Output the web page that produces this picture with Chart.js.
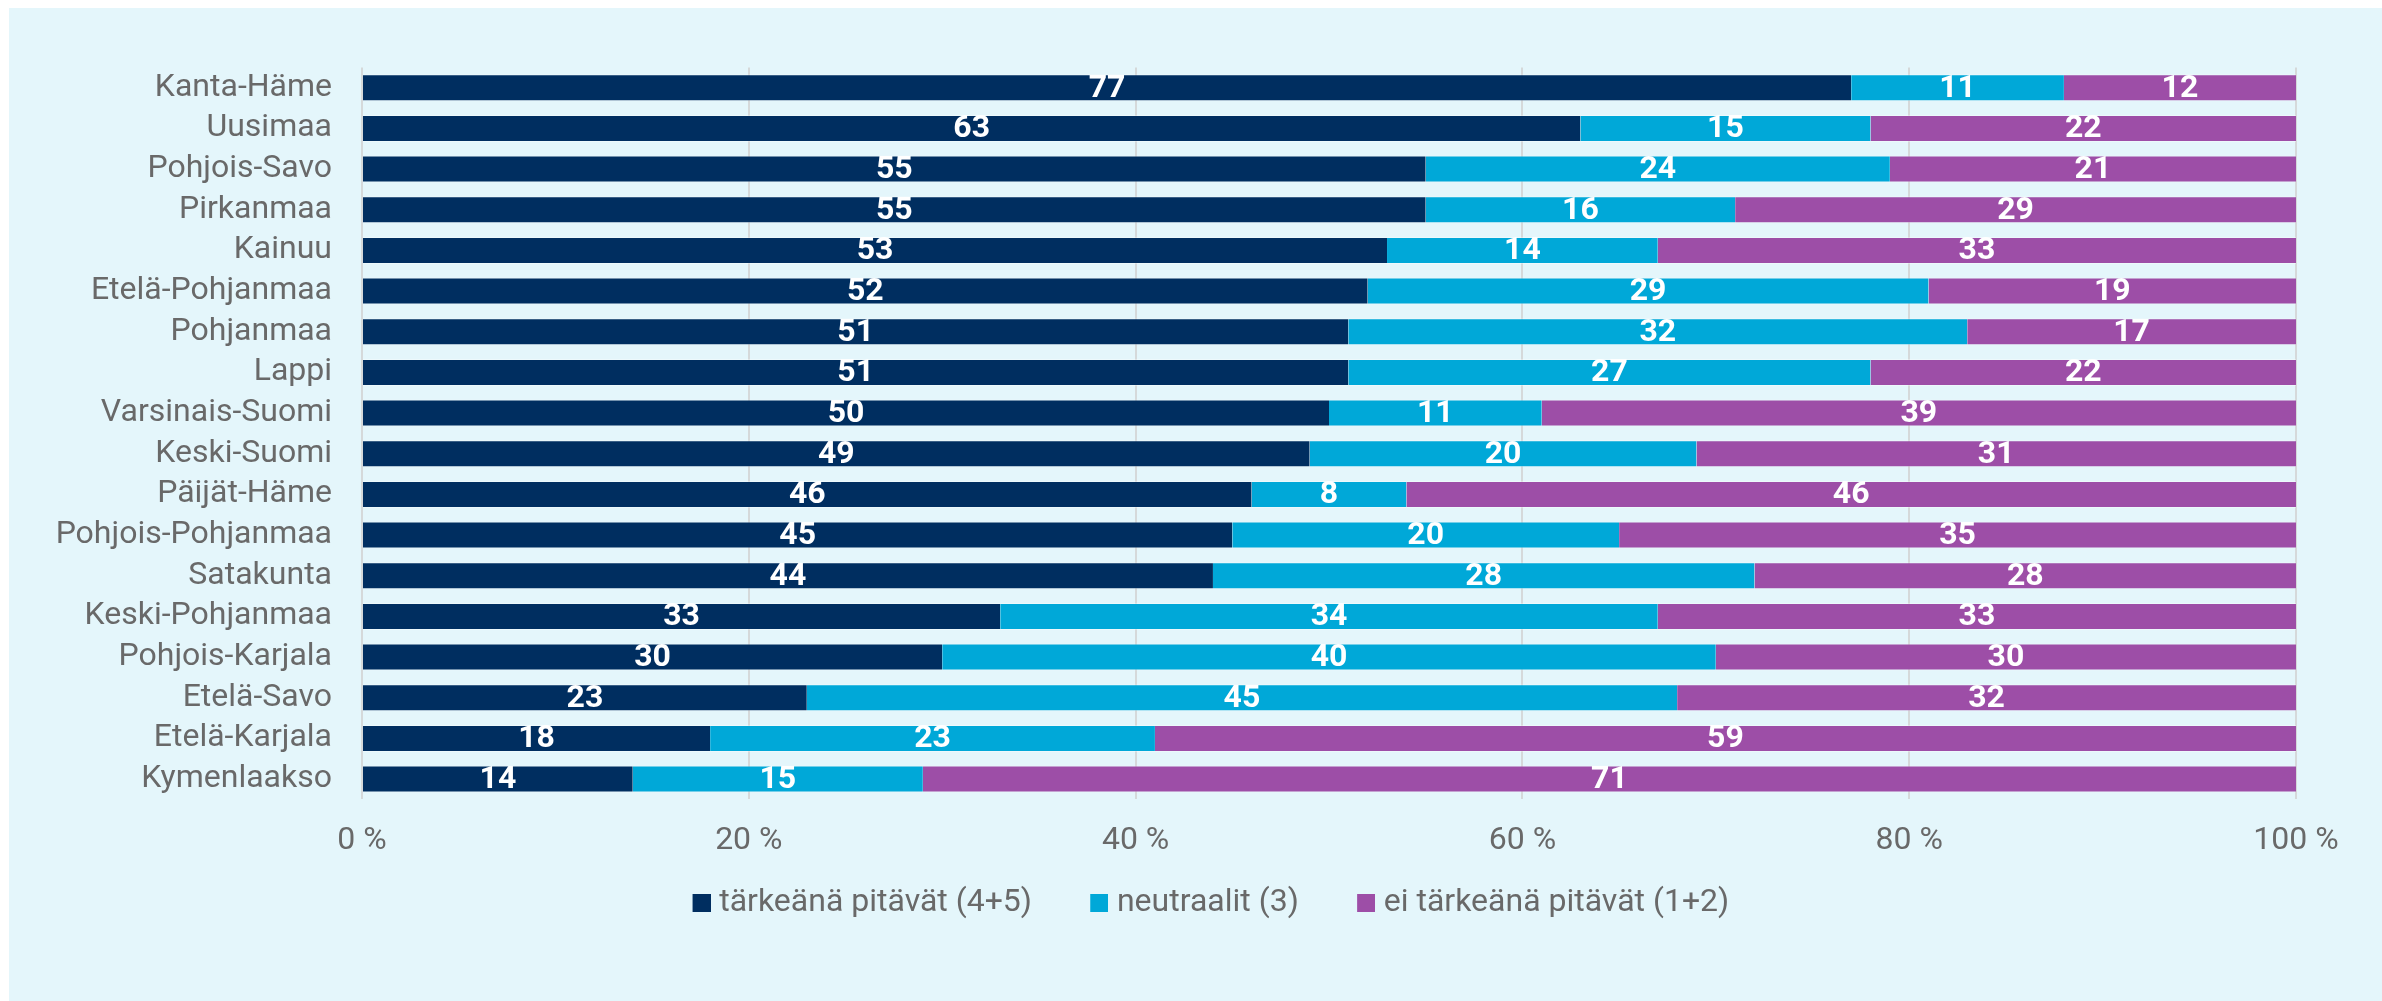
<!DOCTYPE html>
<html>
<head>
<meta charset="utf-8">
<script src="https://cdn.jsdelivr.net/npm/chart.js@4/dist/chart.umd.min.js"></script>
<style>
  html, body { margin: 0; padding: 0; background: #ffffff; }
  #panel { position: absolute; left: 9px; top: 8px; width: 2373px; height: 993px; background: #e4f6fb; }
  canvas { display: block; }
</style>
</head>
<body>
<div id="panel"><canvas id="c"></canvas></div>
<script>
const categories = ["Kanta-Häme", "Uusimaa", "Pohjois-Savo", "Pirkanmaa", "Kainuu", "Etelä-Pohjanmaa", "Pohjanmaa", "Lappi", "Varsinais-Suomi", "Keski-Suomi", "Päijät-Häme", "Pohjois-Pohjanmaa", "Satakunta", "Keski-Pohjanmaa", "Pohjois-Karjala", "Etelä-Savo", "Etelä-Karjala", "Kymenlaakso"];
const important = [77, 63, 55, 55, 53, 52, 51, 51, 50, 49, 46, 45, 44, 33, 30, 23, 18, 14];
const neutral   = [11, 15, 24, 16, 14, 29, 32, 27, 11, 20, 8, 20, 28, 34, 40, 45, 23, 15];
const notImportant = [12, 22, 21, 29, 33, 19, 17, 22, 39, 31, 46, 35, 28, 33, 30, 32, 59, 71];
const seriesNames = ["tärkeänä pitävät (4+5)", "neutraalit (3)", "ei tärkeänä pitävät (1+2)"];
const xTicks = [0, 20, 40, 60, 80, 100];

const colors = ["#002e60", "#00a8d8", "#9d4ea7"];
const textGray = "#696969";
const FONT = "Roboto";

// legend swatch: square drawn at the right end of a wider transparent image
const SW_W = 56, SW_SQ = 18;
function swatch(color) {
  const c = document.createElement('canvas');
  c.width = SW_W; c.height = SW_SQ;
  const g = c.getContext('2d');
  g.fillStyle = color;
  g.fillRect(SW_W - SW_SQ, 0, SW_SQ, SW_SQ);
  return c;
}
const swatches = colors.map(swatch);

const valueLabels = {
  id: 'valueLabels',
  afterDatasetsDraw(chart) {
    const ctx = chart.ctx;
    ctx.save();
    ctx.font = "bold 32px " + FONT;
    ctx.fillStyle = "#ffffff";
    ctx.textAlign = "center";
    ctx.textBaseline = "middle";
    chart.data.datasets.forEach((ds, di) => {
      const meta = chart.getDatasetMeta(di);
      meta.data.forEach((el, i) => {
        const v = ds.data[i];
        if (!v) return;
        const p = el.getCenterPoint();
        ctx.fillText(String(v), p.x, p.y + 1);
      });
    });
    ctx.restore();
  }
};

const mk = (label, data, color) => ({
  label, data,
  backgroundColor: color,
  borderColor: "rgba(255,255,255,0.35)",
  borderWidth: {top: 1, bottom: 1, left: 0, right: 0},
  borderSkipped: false,
  categoryPercentage: 1.0,
  barPercentage: 0.664
});

new Chart(document.getElementById('c'), {
  type: 'bar',
  data: {
    labels: categories,
    datasets: [
      mk(seriesNames[0], important, colors[0]),
      mk(seriesNames[1], neutral, colors[1]),
      mk(seriesNames[2], notImportant, colors[2])
    ]
  },
  options: {
    indexAxis: 'y',
    responsive: true,
    maintainAspectRatio: false,
    animation: false,
    layout: { padding: { left: 0, right: 0, top: 59.4, bottom: 72 } },
    plugins: {
      tooltip: { enabled: false },
      legend: {
        position: 'bottom',
        align: 'center',
        labels: {
          usePointStyle: true,
          pointStyleWidth: 41.4,
          boxHeight: 18,
          padding: 27.6,
          color: textGray,
          font: { family: FONT, size: 32 },
          generateLabels(chart) {
            const items = Chart.defaults.plugins.legend.labels.generateLabels(chart);
            items.forEach(it => { it.pointStyle = swatches[it.datasetIndex]; });
            return items;
          }
        }
      }
    },
    scales: {
      x: {
        stacked: true,
        min: 0,
        max: 100,
        afterBuildTicks(scale) { scale.ticks = xTicks.map(v => ({ value: v })); },
        afterFit(scale) { scale.height = 60; scale.paddingRight = 86; },
        border: { display: false },
        grid: { color: "#d5d9da", lineWidth: 2, drawTicks: false },
        ticks: {
          padding: 22,
          autoSkip: false,
          maxRotation: 0,
          color: textGray,
          font: { family: FONT, size: 32 },
          callback: (v) => v + " %"
        }
      },
      y: {
        stacked: true,
        afterFit(scale) { scale.width = 353; },
        border: { display: false },
        grid: { display: false, drawTicks: false },
        ticks: {
          padding: 30,
          autoSkip: false,
          color: textGray,
          font: { family: FONT, size: 32 }
        }
      }
    }
  },
  plugins: [valueLabels]
});
</script>
</body>
</html>
